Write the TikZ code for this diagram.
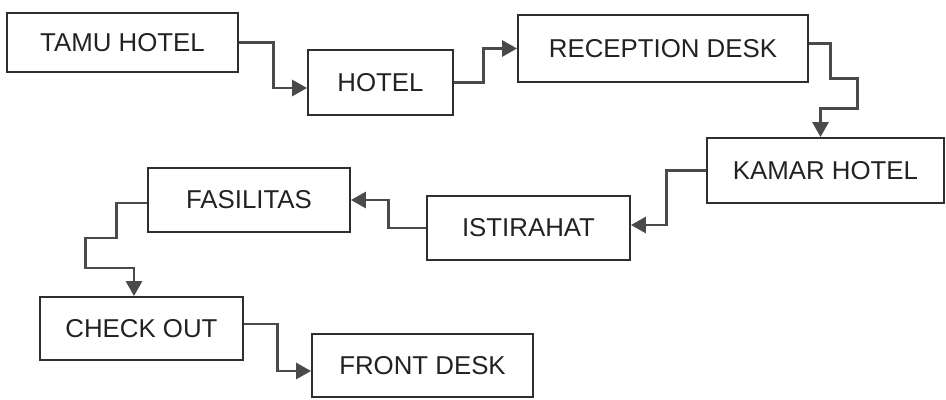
\documentclass[tikz,border=0pt]{standalone}
\usepackage{fontspec}
\setmainfont{Liberation Sans}
\usetikzlibrary{arrows.meta,calc}
\definecolor{boxline}{HTML}{2E2E2E}
\definecolor{linkline}{HTML}{4A4A4A}
\definecolor{boxtext}{HTML}{222222}

\begin{document}
\begin{tikzpicture}[x=0.02cm,y=-0.02cm,
  box/.style={draw=boxline,line width=1.1pt,inner sep=0pt,text=boxtext,
    font=\fontsize{14.7}{16}\selectfont},
  link/.style={draw=linkline,line width=1.7pt,
    -{Triangle[length=0.3cm,width=0.32cm]}}]
\useasboundingbox (0,0) rectangle (946,399);
\node[box,minimum width=4.62cm,minimum height=1.18cm] (tamu) at (122.5,42.5) {TAMU HOTEL};
\node[box,minimum width=2.9cm,minimum height=1.3cm] (hotel) at (380.5,82.5) {HOTEL};
\node[box,minimum width=5.8cm,minimum height=1.34cm] (reception) at (663,48.5) {RECEPTION DESK};
\node[box,minimum width=4.74cm,minimum height=1.3cm] (kamar) at (825.5,170.5) {KAMAR HOTEL};
\node[box,minimum width=4.06cm,minimum height=1.28cm] (istirahat) at (528.5,228) {ISTIRAHAT};
\node[box,minimum width=4.04cm,minimum height=1.28cm] (fasilitas) at (249,200) {FASILITAS};
\node[box,minimum width=4.06cm,minimum height=1.26cm] (checkout) at (141.5,328.5) {CHECK OUT};
\node[box,minimum width=4.42cm,minimum height=1.26cm] (frontdesk) at (422.5,365.5) {FRONT DESK};
% alur tamu
\draw[link] (tamu.east) -- ++(35,0) |- ($(hotel.west)+(0,5.5)$);
\draw[link] (hotel.east) -- ++(30,0) |- (reception.west);
\draw[link] ($(reception.east)+(0,-5)$) -- ++(22,0) -- ++(0,35) -- ++(27,0) -- ++(0,30)
  -| ($(kamar.north)+(-5,0)$);
\draw[link] (kamar.west) -- ++(-40,0) |- ($(istirahat.east)+(0,-3)$);
\draw[link] (istirahat.west) -- ++(-38,0) |- (fasilitas.east);
\draw[link] ($(fasilitas.west)+(0,3)$) -- ++(-31,0) -- ++(0,35) -- ++(-31,0) -- ++(0,30)
  -| ($(checkout.north)+(-7.5,0)$);
\draw[link] ($(checkout.east)+(0,-4.5)$) -- ++(34,0) |- ($(frontdesk.west)+(0,5.5)$);
\end{tikzpicture}
\end{document}
